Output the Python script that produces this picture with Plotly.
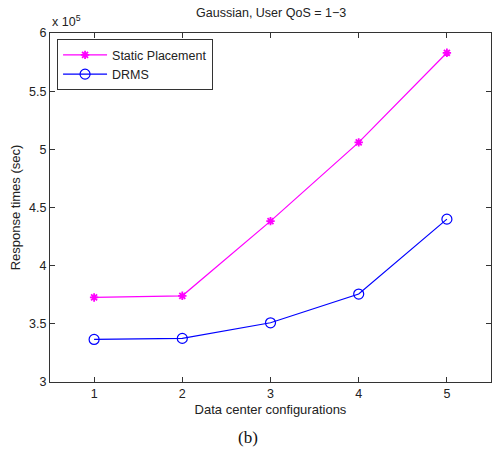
import plotly.graph_objects as go

configs = [1, 2, 3, 4, 5]
static_placement = [3.727, 3.741, 4.383, 5.06, 5.83]
drms = [3.366, 3.375, 3.509, 3.756, 4.40]
y_ticks = [3, 3.5, 4, 4.5, 5, 5.5, 6]
y_tick_labels = ["3", "3.5", "4", "4.5", "5", "5.5", "6"]

FONT = "Liberation Sans, Arial"
fig = go.Figure()
fig.add_trace(go.Scatter(
    x=configs, y=static_placement, mode="lines+markers", name="Static Placement",
    line=dict(color="#ff00ff", width=1.2),
    marker=dict(symbol="asterisk-open", size=7, color="#ff00ff", line=dict(color="#ff00ff", width=1.8)),
))
fig.add_trace(go.Scatter(
    x=configs, y=drms, mode="lines+markers", name="DRMS",
    line=dict(color="#0000ff", width=1.2),
    marker=dict(symbol="circle-open", size=10, color="#0000ff", line=dict(color="#0000ff", width=1.2)),
))

axis_common = dict(
    showgrid=False, zeroline=False, showline=True, linecolor="#333333", linewidth=1,
    mirror="ticks", ticks="inside", ticklen=5, tickcolor="#333333",
    tickfont=dict(family=FONT, size=12.5, color="#222222"),
)

fig.update_layout(
    width=493, height=449,
    margin=dict(l=50, r=2, t=33, b=67),
    paper_bgcolor="white", plot_bgcolor="white",
    title=dict(text="Gaussian, User QoS = 1\u22123", x=0.55, xanchor="center", y=0.972, yanchor="middle",
               font=dict(family=FONT, size=12.5, color="#222222")),
    xaxis=dict(range=[0.5, 5.5], tickvals=configs, ticktext=[str(c) for c in configs],
               title=dict(text="Data center configurations", standoff=4,
                          font=dict(family=FONT, size=13, color="#222222")),
               **axis_common),
    yaxis=dict(range=[3, 6], tickvals=y_ticks, ticktext=y_tick_labels,
               title=dict(text="Response times (sec)", standoff=5,
                          font=dict(family=FONT, size=13, color="#222222")),
               **axis_common),
    legend=dict(x=0.016, y=0.982, xanchor="left", yanchor="top",
                bordercolor="#333333", borderwidth=1, bgcolor="white",
                font=dict(family=FONT, size=12.5, color="#222222"),
                tracegroupgap=0, itemwidth=44),
    showlegend=True,
)

fig.add_annotation(text="x 10<sup>5</sup>", xref="paper", yref="paper", x=0.0, y=1.0,
                   xanchor="left", yanchor="bottom", yshift=2, showarrow=False,
                   font=dict(family=FONT, size=12.5, color="#222222"))
fig.add_annotation(text="(b)", xref="paper", yref="paper", x=0.449, y=-0.158,
                   xanchor="center", yanchor="middle", showarrow=False,
                   font=dict(family="Liberation Serif, Times New Roman", size=17, color="#111111"))

fig.write_html("out.html")
